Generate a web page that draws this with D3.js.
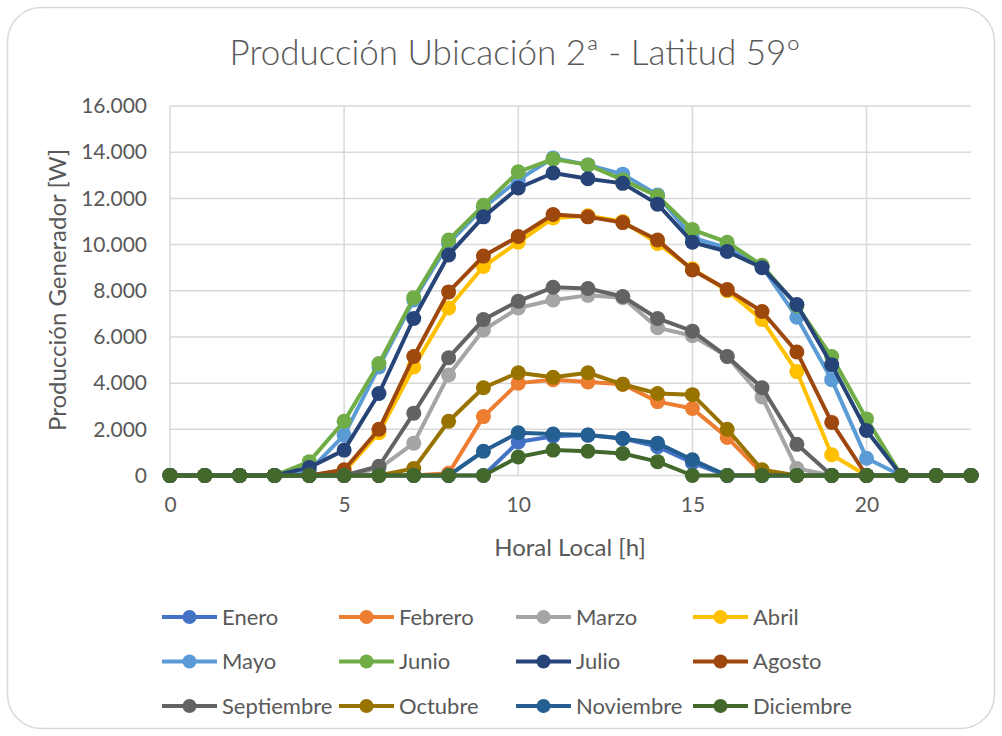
<!DOCTYPE html>
<html>
<head>
<meta charset="utf-8">
<script src="https://cdn.jsdelivr.net/npm/d3@7"></script>
<style>
  body { margin: 0; background: #fff; }
  text { font-family: Lato, "Open Sans", sans-serif; fill: #595959; }
</style>
</head>
<body>
<svg id="chart" width="1002" height="736"></svg>
<script>
const hours = d3.range(0, 24)
const months = ['Enero', 'Febrero', 'Marzo', 'Abril', 'Mayo', 'Junio', 'Julio', 'Agosto', 'Septiembre', 'Octubre', 'Noviembre', 'Diciembre']
const colors = ['#4472C4', '#ED7D31', '#A5A5A5', '#FFC000', '#5B9BD5', '#70AD47', '#264478', '#9E480E', '#636363', '#997300', '#255E91', '#43682B']

const enero = [0, 0, 0, 0, 0, 0, 0, 0, 0, 0, 1450, 1700, 1750, 1600, 1250, 550, 0, 0, 0, 0, 0, 0, 0, 0]
const febrero = [0, 0, 0, 0, 0, 0, 0, 0, 100, 2550, 4000, 4150, 4050, 3950, 3200, 2900, 1650, 100, 0, 0, 0, 0, 0, 0]
const marzo = [0, 0, 0, 0, 0, 0, 300, 1400, 4350, 6300, 7250, 7600, 7800, 7700, 6400, 6050, 5150, 3400, 300, 0, 0, 0, 0, 0]
const abril = [0, 0, 0, 0, 0, 150, 1850, 4700, 7250, 9050, 10100, 11150, 11250, 11000, 10050, 8950, 8000, 6750, 4500, 900, 0, 0, 0, 0]
const mayo = [0, 0, 0, 0, 200, 1750, 4700, 7600, 10050, 11600, 12800, 13750, 13450, 13050, 12150, 10300, 9850, 9050, 6850, 4150, 750, 0, 0, 0]
const junio = [0, 0, 0, 0, 600, 2350, 4850, 7700, 10200, 11700, 13150, 13700, 13450, 12800, 12100, 10650, 10100, 9100, 7350, 5150, 2450, 0, 0, 0]
const julio = [0, 0, 0, 0, 350, 1100, 3550, 6800, 9550, 11200, 12450, 13100, 12850, 12650, 11750, 10100, 9700, 9000, 7400, 4800, 1950, 0, 0, 0]
const agosto = [0, 0, 0, 0, 0, 250, 2000, 5150, 7950, 9500, 10350, 11300, 11200, 10950, 10200, 8900, 8050, 7100, 5350, 2300, 0, 0, 0, 0]
const septiembre = [0, 0, 0, 0, 0, 0, 400, 2700, 5100, 6750, 7550, 8150, 8100, 7750, 6800, 6250, 5150, 3800, 1350, 0, 0, 0, 0, 0]
const octubre = [0, 0, 0, 0, 0, 0, 0, 300, 2350, 3800, 4450, 4250, 4450, 3950, 3550, 3500, 2000, 250, 0, 0, 0, 0, 0, 0]
const noviembre = [0, 0, 0, 0, 0, 0, 0, 0, 0, 1050, 1850, 1800, 1750, 1600, 1400, 680, 0, 0, 0, 0, 0, 0, 0, 0]
const diciembre = [0, 0, 0, 0, 0, 0, 0, 0, 0, 0, 800, 1100, 1050, 950, 600, 0, 0, 0, 0, 0, 0, 0, 0, 0]

const xTicks = [0, 5, 10, 15, 20]
const yTicks = [0, 2000, 4000, 6000, 8000, 10000, 12000, 14000, 16000]

const seriesValues = [enero, febrero, marzo, abril, mayo, junio, julio, agosto, septiembre, octubre, noviembre, diciembre]
const series = months.map((m, i) => ({ name: m, color: colors[i], values: seriesValues[i] }))

const svg = d3.select('#chart')

svg.append('rect')
    .attr('x', 7.5).attr('y', 7.5)
    .attr('width', 987).attr('height', 721)
    .attr('rx', 34)
    .attr('fill', '#fff')
    .attr('stroke', '#d9d9d9')
    .attr('stroke-width', 1.5)

const x = d3.scaleLinear().domain([0, 23]).range([170, 971])
const y = d3.scaleLinear().domain([0, 16000]).range([475.5, 106])

const fmt = d3.formatLocale({ decimal: ',', thousands: '.', grouping: [3], currency: ['', '€'] }).format(',.0f')

// gridlines
svg.append('g')
    .selectAll('line')
    .data(yTicks)
    .join('line')
    .attr('x1', x(0)).attr('x2', x(23))
    .attr('y1', d => y(d)).attr('y2', d => y(d))
    .attr('stroke', '#d9d9d9').attr('stroke-width', 1.5)

svg.append('g')
    .selectAll('line')
    .data(xTicks)
    .join('line')
    .attr('x1', d => x(d)).attr('x2', d => x(d))
    .attr('y1', y(0)).attr('y2', y(16000))
    .attr('stroke', '#d9d9d9').attr('stroke-width', 1.5)

// axes
const yAxis = svg.append('g')
    .attr('transform', `translate(${x(0)},0)`)
    .call(d3.axisLeft(y).tickValues(yTicks).tickFormat(fmt).tickSize(0).tickPadding(23))
yAxis.select('.domain').remove()
yAxis.selectAll('text').attr('font-size', 21).attr('font-family', null).attr('fill', '#595959')

const xAxis = svg.append('g')
    .attr('transform', `translate(0,${y(0)})`)
    .call(d3.axisBottom(x).tickValues(xTicks).tickFormat(d3.format('d')).tickSize(0).tickPadding(22))
xAxis.select('.domain').remove()
xAxis.selectAll('text').attr('font-size', 21).attr('font-family', null).attr('fill', '#595959')

// series
const line = d3.line()
    .x((d, i) => x(hours[i]))
    .y(d => y(d))

const gSeries = svg.append('g')
    .selectAll('g')
    .data(series)
    .join('g')

gSeries.append('path')
    .attr('d', d => line(d.values))
    .attr('fill', 'none')
    .attr('stroke', d => d.color)
    .attr('stroke-width', 4)
    .attr('stroke-linejoin', 'round')

gSeries.selectAll('circle')
    .data(d => d.values.map((v, i) => ({ v, h: hours[i], color: d.color })))
    .join('circle')
    .attr('cx', d => x(d.h))
    .attr('cy', d => y(d.v))
    .attr('r', 7.5)
    .attr('fill', d => d.color)

// titles
svg.append('text')
    .attr('x', 515).attr('y', 65)
    .attr('text-anchor', 'middle')
    .attr('font-size', 35)
    .attr('font-weight', 300)
    .text('Producción Ubicación 2ª - Latitud 59º')

svg.append('text')
    .attr('x', 570).attr('y', 556)
    .attr('text-anchor', 'middle')
    .attr('font-size', 24)
    .text('Horal Local [h]')

svg.append('text')
    .attr('transform', 'translate(66,290) rotate(-90)')
    .attr('text-anchor', 'middle')
    .attr('font-size', 24)
    .text('Producción Generador [W]')

// legend
const legend = svg.append('g')
    .selectAll('g')
    .data(series)
    .join('g')
    .attr('transform', (d, i) => `translate(${162 + (i % 4) * 177},${617 + Math.floor(i / 4) * 44.5})`)

legend.append('line')
    .attr('x1', 0).attr('x2', 55)
    .attr('stroke', d => d.color)
    .attr('stroke-width', 4)

legend.append('circle')
    .attr('cx', 27.5)
    .attr('r', 7)
    .attr('fill', d => d.color)

legend.append('text')
    .attr('x', 60)
    .attr('dy', '0.35em')
    .attr('font-size', 22)
    .text(d => d.name)
</script>
</body>
</html>
